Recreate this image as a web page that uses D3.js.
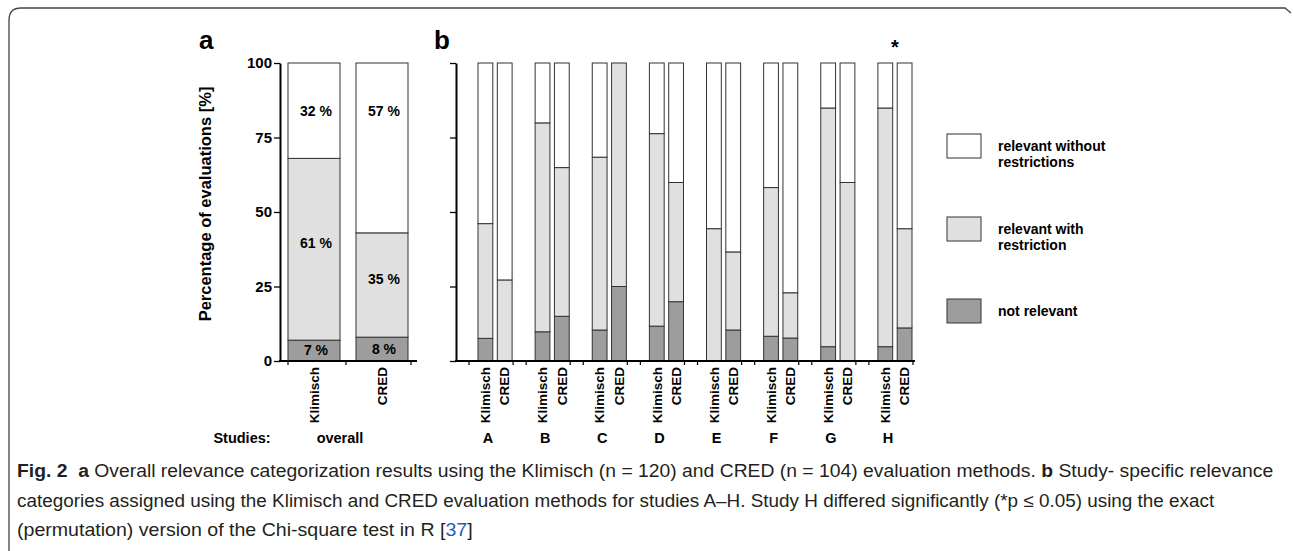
<!DOCTYPE html>
<html>
<head>
<meta charset="utf-8">
<script src="https://cdn.jsdelivr.net/npm/d3@7"></script>
<style>
  body { margin: 0; background: #fff; }
  text { font-family: "Liberation Sans", Arial, sans-serif; }
</style>
</head>
<body>
<script>
// Stacked relevance categories, Klimisch vs CRED
// panel a: overall, panel b: per study A-H

var methods = ["Klimisch", "CRED"];
var studies = ["A", "B", "C", "D", "E", "F", "G", "H"];
var keys = ["nr", "wr", "wo"];   // not relevant, with restriction, without restrictions
var legendLabels = [["relevant without", "restrictions"], ["relevant with", "restriction"], ["not relevant"]];
var yTicks = [0, 25, 50, 75, 100];
var significant = ["H"];

// panel a (% of evaluations), order Klimisch, CRED
var overallNotRelevant = [7, 8];
var overallWithRestriction = [61, 35];
var overallWithout = [32, 57];

// panel b, per study A..H
var klimNotRelevant = [7.6, 9.8, 10.4, 11.7, 0, 8.3, 4.8, 4.8];
var klimWithRestriction = [38.5, 70.1, 58.0, 64.6, 44.4, 49.9, 80.1, 80.1];
var klimWithout = [53.9, 20.1, 31.6, 23.7, 55.6, 41.8, 15.1, 15.1];
var credNotRelevant = [0, 15.0, 25.0, 19.9, 10.4, 7.7, 0, 11.1];
var credWithRestriction = [27.2, 49.9, 75.0, 40.0, 26.2, 15.2, 59.9, 33.3];
var credWithout = [72.8, 35.1, 0, 40.1, 63.4, 77.1, 40.1, 55.6];

var fills = { nr: "#9d9d9d", wr: "#e0e0e0", wo: "#ffffff" };

var svg = d3.select("body").append("svg")
  .attr("width", 1293)
  .attr("height", 551);

// frame round the figure
svg.append("path")
  .attr("d", "M9,551 V20 Q9,8 21,8 H1285 L1291,13")
  .attr("fill", "none")
  .attr("stroke", "#444")
  .attr("stroke-width", 1.3);

var y = d3.scaleLinear().domain([0, 100]).range([361, 63]);

// tables
var overallRows = methods.map(function (m, i) {
  return { method: m, nr: overallNotRelevant[i], wr: overallWithRestriction[i], wo: overallWithout[i] };
});
var studyRows = [];
studies.forEach(function (s, i) {
  studyRows.push({ study: s, method: "Klimisch", nr: klimNotRelevant[i], wr: klimWithRestriction[i], wo: klimWithout[i] });
  studyRows.push({ study: s, method: "CRED", nr: credNotRelevant[i], wr: credWithRestriction[i], wo: credWithout[i] });
});

var stack = d3.stack().keys(keys);

// ---------- panel a ----------
var xa = d3.scaleBand().domain(methods).range([288, 408]).paddingInner(0.235);

var ga = svg.append("g");
ga.selectAll("g.layer")
  .data(stack(overallRows))
  .enter().append("g")
  .attr("fill", function (d) { return fills[d.key]; })
  .selectAll("rect")
  .data(function (d) { return d; })
  .enter().append("rect")
  .attr("x", function (d) { return xa(d.data.method); })
  .attr("y", function (d) { return y(d[1]); })
  .attr("width", xa.bandwidth())
  .attr("height", function (d) { return y(d[0]) - y(d[1]); })
  .attr("stroke", "#333")
  .attr("stroke-width", 1);

// percent labels in the bars (Prism puts the top ones near the top)
stack(overallRows).forEach(function (layer) {
  ga.selectAll(null)
    .data(layer)
    .enter().append("text")
    .attr("x", function (d) { return xa(d.data.method) + xa.bandwidth() / 2 + 2; })
    .attr("y", function (d) {
      var mid;
      if (layer.key === "wo") mid = d[1] - 16;
      else if (layer.key === "wr") mid = (d[0] + d[1]) / 2 + 2;
      else mid = (d[0] + d[1]) / 2;
      return y(mid);
    })
    .attr("dy", "0.35em")
    .attr("text-anchor", "middle")
    .attr("font-weight", "bold")
    .attr("font-size", "14px")
    .text(function (d) { return d.data[layer.key] + " %"; });
});

function drawYAxis(xpos, labels) {
  var g = svg.append("g").attr("transform", "translate(" + xpos + ",0)");
  g.call(d3.axisLeft(y).tickValues(d3.range(0, 100.1, 6.25)).tickSize(3).tickSizeOuter(0).tickFormat(""));
  g.call(d3.axisLeft(y).tickValues(yTicks).tickSize(6).tickSizeOuter(0)
    .tickFormat(labels ? d3.format("d") : ""));
  g.selectAll("path.domain").attr("stroke", "#000").attr("stroke-width", 2);
  g.selectAll("line").attr("stroke", "#000").attr("stroke-width", 1.3);
  g.selectAll("text")
    .attr("font-family", "Liberation Sans, Arial, sans-serif")
    .attr("font-weight", "bold")
    .attr("font-size", "15px")
    .attr("fill", "#000")
    .attr("x", -8);
  return g;
}

drawYAxis(280, true);

// x baseline panel a
svg.append("line").attr("x1", 279).attr("x2", 417).attr("y1", y(0)).attr("y2", y(0))
  .attr("stroke", "#000").attr("stroke-width", 2);
svg.selectAll("line.xta")
  .data([xa.range()[0], xa.range()[0] + xa.step() / 2 + xa.bandwidth() / 2 - 2, xa.range()[1] + 3])
  .enter().append("line")
  .attr("x1", function (d) { return d; }).attr("x2", function (d) { return d; })
  .attr("y1", y(0)).attr("y2", y(0) + 4)
  .attr("stroke", "#000").attr("stroke-width", 1.2);

// method labels panel a
svg.selectAll("text.ma")
  .data(methods)
  .enter().append("text")
  .attr("transform", function (d) { return "translate(" + (xa(d) + xa.bandwidth() / 2) + ",367) rotate(-90)"; })
  .attr("text-anchor", "end")
  .attr("dy", "0.35em")
  .attr("font-weight", "bold")
  .attr("font-size", "13.5px")
  .text(function (d) { return d; });

// y axis title
svg.append("text")
  .attr("transform", "translate(205,204) rotate(-90)")
  .attr("text-anchor", "middle")
  .attr("dy", "0.35em")
  .attr("font-weight", "bold")
  .attr("font-size", "16.5px")
  .text("Percentage of evaluations [%]");

// ---------- panel b ----------
var xb = d3.scaleBand().domain(studies).range([478, 912]).paddingInner(0.403);
var xm = d3.scaleBand().domain(methods).range([0, xb.bandwidth()]).paddingInner(0.234);

var gb = svg.append("g");
gb.selectAll("g.layer")
  .data(stack(studyRows))
  .enter().append("g")
  .attr("fill", function (d) { return fills[d.key]; })
  .selectAll("rect")
  .data(function (d) { return d; })
  .enter().append("rect")
  .attr("x", function (d) { return xb(d.data.study) + xm(d.data.method); })
  .attr("y", function (d) { return y(d[1]); })
  .attr("width", xm.bandwidth())
  .attr("height", function (d) { return y(d[0]) - y(d[1]); })
  .attr("stroke", "#333")
  .attr("stroke-width", 1);

drawYAxis(456, false);

svg.append("line").attr("x1", 455).attr("x2", 915).attr("y1", y(0)).attr("y2", y(0))
  .attr("stroke", "#000").attr("stroke-width", 2);
var tb = [];
studies.forEach(function (s) { tb.push(xb(s) - 9); tb.push(xb(s) + xb.bandwidth() + 1); });
svg.selectAll("line.xtb")
  .data(tb)
  .enter().append("line")
  .attr("x1", function (d) { return d; }).attr("x2", function (d) { return d; })
  .attr("y1", y(0)).attr("y2", y(0) + 4)
  .attr("stroke", "#000").attr("stroke-width", 1.2);

// method labels panel b
svg.selectAll("text.mb")
  .data(studyRows)
  .enter().append("text")
  .attr("transform", function (d) {
    return "translate(" + (xb(d.study) + xm(d.method) + xm.bandwidth() / 2) + ",367) rotate(-90)";
  })
  .attr("text-anchor", "end")
  .attr("dy", "0.35em")
  .attr("font-weight", "bold")
  .attr("font-size", "13.5px")
  .text(function (d) { return d.method; });

// significance star
svg.selectAll("text.star")
  .data(significant)
  .enter().append("text")
  .attr("x", function (d) { return xb(d) + xb.bandwidth() / 2; })
  .attr("y", 54)
  .attr("text-anchor", "middle")
  .attr("font-weight", "bold")
  .attr("font-size", "20px")
  .text("*");

// panel letters
svg.append("text").attr("x", 199).attr("y", 49).attr("font-weight", "bold").attr("font-size", "26px").text("a");
svg.append("text").attr("x", 434).attr("y", 49).attr("font-weight", "bold").attr("font-size", "26px").text("b");

// studies row
var rowY = 443;
svg.append("text").attr("x", 242).attr("y", rowY).attr("text-anchor", "middle")
  .attr("font-weight", "bold").attr("font-size", "14.5px").text("Studies:");
svg.append("text").attr("x", (xa.range()[0] + xa.range()[1]) / 2 - 8).attr("y", rowY).attr("text-anchor", "middle")
  .attr("font-weight", "bold").attr("font-size", "14.5px").text("overall");
svg.selectAll("text.study")
  .data(studies)
  .enter().append("text")
  .attr("x", function (d) { return xb(d) + xb.bandwidth() / 2 - 7; })
  .attr("y", rowY)
  .attr("text-anchor", "middle")
  .attr("font-weight", "bold")
  .attr("font-size", "14.5px")
  .text(function (d) { return d; });

// legend
var legendKeys = ["wo", "wr", "nr"];
var legendTop = [134, 217, 299];
var lg = svg.selectAll("g.legend")
  .data(legendKeys)
  .enter().append("g")
  .attr("transform", function (d, i) { return "translate(947," + legendTop[i] + ")"; });
lg.append("rect")
  .attr("width", 34).attr("height", 24)
  .attr("fill", function (d) { return fills[d]; })
  .attr("stroke", "#333").attr("stroke-width", 1);
lg.each(function (d, i) {
  var lines = legendLabels[i];
  var t = d3.select(this).append("text")
    .attr("font-weight", "bold").attr("font-size", "14px");
  lines.forEach(function (l, j) {
    t.append("tspan").attr("x", 51).attr("y", 17 + j * 16).text(l);
  });
});

// caption
var capFont = "'Liberation Sans Narrow', 'DejaVu Sans Condensed', 'Open Sans', sans-serif";
var caption = [
  { y: 477, width: 1257, parts: [["Fig. 2", "bold"], ["  a", "bold"],
    [" Overall relevance categorization results using the Klimisch (n = 120) and CRED (n = 104) evaluation methods. "],
    ["b", "bold"], [" Study- specific relevance"]] },
  { y: 507, width: 1198, parts: [["categories assigned using the Klimisch and CRED evaluation methods for studies A\u2013H. Study H differed significantly (*p \u2264 0.05) using the exact"]] },
  { y: 536, width: 456, parts: [["(permutation) version of the Chi-square test in R ["], ["37", "normal", "#2a5db0"], ["]"]] }
];
caption.forEach(function (line) {
  var t = svg.append("text")
    .attr("x", 17).attr("y", line.y)
    .attr("font-family", capFont)
    .attr("font-size", "18.5px")
    .attr("fill", "#231f20")
    .attr("xml:space", "preserve");
  line.parts.forEach(function (p) {
    t.append("tspan")
      .attr("font-weight", p[1] === "bold" ? "bold" : "normal")
      .attr("fill", p[2] || "#231f20")
      .text(p[0]);
  });
  var w = t.node().getComputedTextLength();
  var k = line.width / w;
  t.attr("transform", "translate(17,0) scale(" + k + ",1) translate(-17,0)");
});
</script>
</body>
</html>
